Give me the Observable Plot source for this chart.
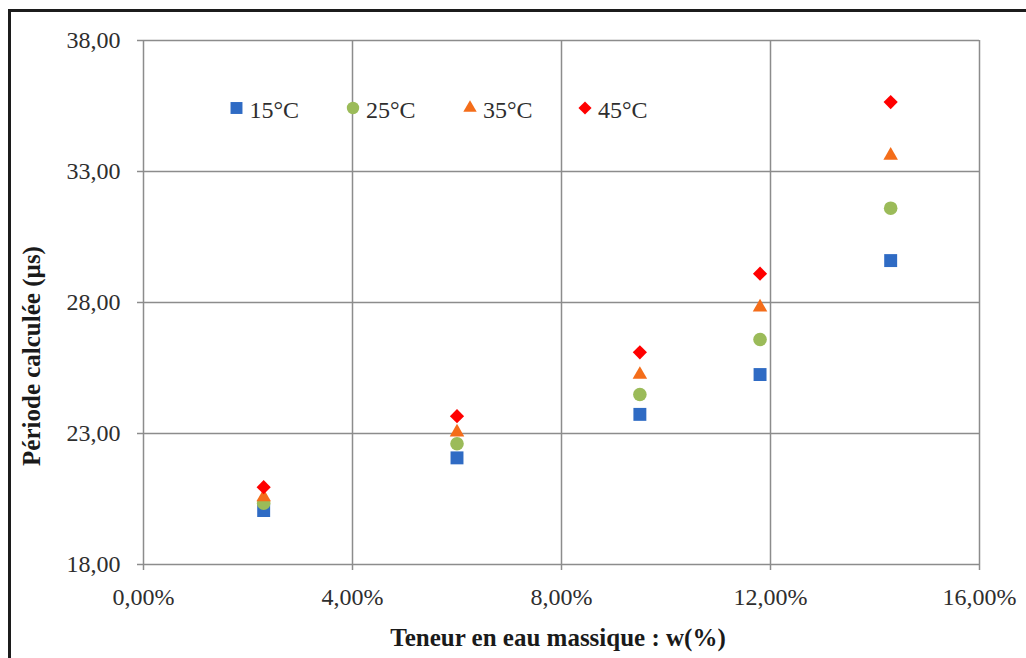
<!DOCTYPE html>
<html>
<head>
<meta charset="utf-8">
<script src="https://cdn.jsdelivr.net/npm/d3@7"></script>
<script src="https://cdn.jsdelivr.net/npm/@observablehq/plot@0.6"></script>
<style>
  html, body { margin: 0; padding: 0; background: #fff; }
  #wrap { position: relative; width: 1026px; height: 658px; overflow: hidden; font-family: "Liberation Serif", serif; }
  #frame { position: absolute; left: 8px; top: 9px; width: 1030px; height: 660px; border-left: 3px solid #1c1c1c; border-top: 3px solid #1c1c1c; pointer-events: none; }
  .title { position: absolute; font-weight: bold; font-size: 25px; color: #1a1a1a; white-space: nowrap; transform: translate(-50%, -50%); }
  #ytitle { transform: translate(-50%, -50%) rotate(-90deg); }
  svg.overlay { position: absolute; left: 0; top: 0; pointer-events: none; }
</style>
</head>
<body>
<div id="wrap"></div>
<script>
// ---- data ----
const waterContent = [0.023, 0.060, 0.095, 0.118, 0.143];
const period15 = [20.06, 22.07, 23.73, 25.25, 29.60];
const period25 = [20.34, 22.61, 24.49, 26.59, 31.60];
const period35 = [20.57, 23.05, 25.25, 27.82, 33.61];
const period45 = [20.95, 23.66, 26.10, 29.10, 35.65];
const seriesNames = ["15°C", "25°C", "35°C", "45°C"];
const xTicks = [0, 0.04, 0.08, 0.12, 0.16];
const yTicks = [18, 23, 28, 33, 38];
const xLabel = "Teneur en eau massique : w(%)";
const yLabel = "Période calculée (µs)";

// ---- styles ----
const colors = ["#2f6bc4", "#9bbb59", "#f46d1a", "#ff0000"];
const symbols = ["square", "circle", "triangle", "diamond2"];
const radii = [7.3, 6.8, 5.4, 6.4];
const seriesValues = [period15, period25, period35, period45];
const gridColor = "#8c8c8c";

const fmtY = d => d.toFixed(2).replace(".", ",");
const fmtX = d => (d * 100).toFixed(2).replace(".", ",") + "%";

const idx = d3.range(waterContent.length);

const chart = Plot.plot({
  width: 1026,
  height: 658,
  marginLeft: 143,
  marginRight: 47,
  marginTop: 40,
  marginBottom: 94,
  style: { fontFamily: "Liberation Serif, serif", fontSize: "24px", background: "transparent", overflow: "visible" },
  x: { domain: [0, 0.16] },
  y: { domain: [18, 38] },
  marks: [
    Plot.gridX(xTicks, { stroke: gridColor, strokeOpacity: 1, strokeWidth: 1.5 }),
    Plot.gridY(yTicks, { stroke: gridColor, strokeOpacity: 1, strokeWidth: 1.5 }),
    Plot.axisX(xTicks, { tickSize: 6, tickPadding: 17, tickFormat: fmtX, label: null, stroke: gridColor, strokeWidth: 1.5, fill: "#2e2e2e", fontSize: 24 }),
    Plot.axisY(yTicks, { tickSize: 6, tickPadding: 17, tickFormat: fmtY, label: null, stroke: gridColor, strokeWidth: 1.5, fill: "#2e2e2e", fontSize: 24 }),
    ...seriesValues.map((vals, s) =>
      Plot.dot(idx, { x: i => waterContent[i], y: i => vals[i], symbol: symbols[s], r: radii[s], fill: colors[s], stroke: "none" })
    )
  ]
});

const wrap = document.getElementById("wrap");
wrap.appendChild(chart);

// frame
const frame = document.createElement("div");
frame.id = "frame";
wrap.appendChild(frame);

// axis titles
const xt = document.createElement("div");
xt.className = "title"; xt.textContent = xLabel;
xt.style.left = "558px"; xt.style.top = "638px";
wrap.appendChild(xt);
const yt = document.createElement("div");
yt.className = "title"; yt.id = "ytitle"; yt.textContent = yLabel;
yt.style.left = "32px"; yt.style.top = "356px";
wrap.appendChild(yt);

// legend (inside plot area)
const leg = d3.select(wrap).append("svg").attr("class", "overlay").attr("width", 1026).attr("height", 658);
const symMap = { square: d3.symbolSquare, circle: d3.symbolCircle, triangle: d3.symbolTriangle, diamond2: d3.symbolDiamond2 };
const legX = [236.5, 353, 470, 585];
seriesNames.forEach((name, s) => {
  const g = leg.append("g").attr("transform", `translate(${legX[s]},108)`);
  if (symbols[s] === "circle") {
    g.append("circle").attr("r", radii[s] - 0.6).attr("fill", colors[s]);
  } else {
    g.append("path").attr("d", d3.symbol(symMap[symbols[s]], Math.PI * radii[s] * radii[s] * 0.85)()).attr("fill", colors[s]);
  }
  g.append("text").attr("x", 13).attr("y", 10).attr("font-family", "Liberation Serif, serif").attr("font-size", 24).attr("fill", "#2e2e2e").text(name);
});
</script>
</body>
</html>
